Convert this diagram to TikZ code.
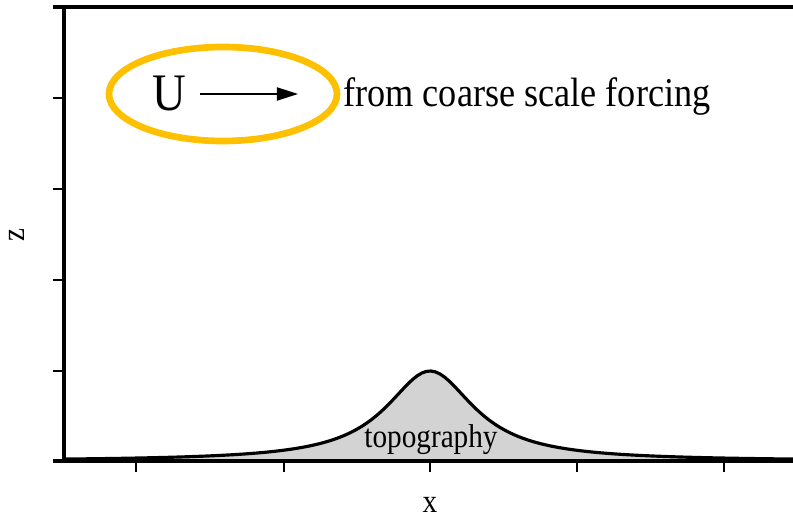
\documentclass[tikz,border=0pt]{standalone}
\usepackage{fontspec}
\setmainfont{Liberation Serif}[FakeStretch=0.885]
\usepackage{tikz}
\usetikzlibrary{arrows.meta, positioning}
\definecolor{ringgold}{RGB}{255,192,0}
\definecolor{terraingray}{RGB}{211,211,211}
\tikzset{
  axisline/.style={line width=1.8pt, color=black},
  tickmark/.style={line width=1.1pt},
  terrain/.style={line width=1.8pt, draw=black, fill=terraingray},
  ringline/.style={line width=3.8pt, draw=ringgold},
  flowarrow/.style={-{Triangle[length=12pt, width=7.5pt]}, line width=0.8pt},
  axislabel/.style={font=\fontsize{18.8}{20}\selectfont, inner sep=0pt},
}

\begin{document}
\begin{tikzpicture}[x=0.02cm, y=-0.02cm]
  \useasboundingbox (0,0) rectangle (793,519);
  % topography
  \path[terrain, draw=none] plot[domain=64:793, samples=160]
    (\x, {461-90/(1+((\x-430)/54)^2)}) -- (793,461) -- (64,461) -- cycle;
  \draw[terrain, fill=none] plot[domain=64:793, samples=160]
    (\x, {461-90/(1+((\x-430)/54)^2)});
  \node[axislabel, anchor=base] (topo) at (431,447) {topography};
  % axes
  \draw[axisline] (53,7) -- (793,7);
  \draw[axisline] (64,7) -- (64,461);
  \draw[axisline] (53,461) -- (793,461);
  \foreach \ty in {7,98,189,280,371,461}
    \draw[tickmark] (53,\ty) -- (64,\ty);
  \foreach \tx in {136,284,430,577,724}
    \draw[tickmark] (\tx,461) -- (\tx,472);
  \node[axislabel, anchor=base] (xlabel) at (430,512) {x};
  \node[axislabel, rotate=90] (zlabel) at (17,235.5) {z};
  % incoming flow
  \draw[ringline] (223,94) ellipse [x radius=114, y radius=47];
  \node[anchor=base, inner xsep=8pt, inner ysep=0pt,
    font=\fontsize{30}{32}\selectfont] (U) at (169,111) {U};
  \coordinate (flowhead) at (298,94);
  \draw[flowarrow] (U.east |- flowhead) -- (flowhead);
  \node[anchor=base west, inner sep=0pt,
    font=\fontsize{23.3}{25}\selectfont] (forcing) at (343,107)
    {from coarse scale forcing};
\end{tikzpicture}
\end{document}
